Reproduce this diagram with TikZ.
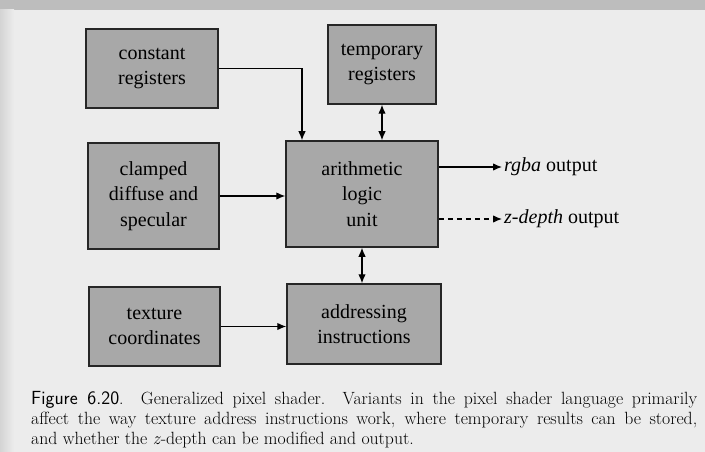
\documentclass[tikz,border=0pt]{standalone}
\usepackage{fontspec}
\setmainfont{Liberation Serif}
\newfontfamily\capfont{Latin Modern Roman}
\newfontfamily\capsans{Latin Modern Sans}
\usetikzlibrary{arrows.meta}
\definecolor{pagegray}{RGB}{236,236,236}
\definecolor{bandgray}{RGB}{189,189,189}
\definecolor{edgegray}{RGB}{212,212,212}
\definecolor{boxgray}{RGB}{168,168,168}
\begin{document}
\begin{tikzpicture}[x=1pt, y=-1pt,
  unitbox/.style={draw=black!85, line width=1.5pt, fill=boxgray, align=center,
    inner sep=0pt, font=\rmfamily\fontsize{20}{25.5}\selectfont},
  flow/.style={line width=1.2pt, -{Latex[length=9pt,width=7.5pt]}},
  twoway/.style={line width=1.2pt, {Latex[length=9pt,width=7.5pt]}-{Latex[length=9pt,width=7.5pt]}},
  outlabel/.style={anchor=west, inner sep=2pt, font=\rmfamily\fontsize{20}{24}\selectfont},
  capline/.style={anchor=base west, inner sep=0pt, font=\capfont\fontsize{17.7}{20}\selectfont}]
% page background
\fill[pagegray] (0,0) rectangle (705,452);
\fill[bandgray] (0,0) rectangle (705,10);
\shade[left color=edgegray, right color=pagegray] (0,10) rectangle (14,452);
\useasboundingbox (0,0) rectangle (705,452);
% units
\node[unitbox, minimum width=132pt, minimum height=79pt] (creg) at (152,68.5) {constant\\registers};
\node[unitbox, minimum width=108pt, minimum height=79pt] (treg) at (382,64.5) {temporary\\registers};
\node[unitbox, minimum width=131pt, minimum height=106pt] (clamp) at (153.5,196) {clamped\\diffuse and\\specular};
\node[unitbox, minimum width=152pt, minimum height=106pt] (alu) at (362,194) {arithmetic\\logic\\unit};
\node[unitbox, minimum width=131pt, minimum height=79pt] (texc) at (154.5,326.5) {texture\\coordinates};
\node[unitbox, minimum width=154pt, minimum height=80pt] (addr) at (364,324) {addressing\\instructions};
% outputs
\node[outlabel] (rgba) at (502,167) {\textit{rgba} output};
\node[outlabel] (zdep) at (502,219) {\textit{z-depth} output};
% connectors
\draw[flow] (creg.east) -| ([xshift=-60pt]alu.north);
\draw[twoway] (treg.south) -- (treg.south |- alu.north);
\draw[flow] (clamp.east) -- (clamp.east -| alu.west);
\draw[flow] ([yshift=27pt]alu.east) -- (rgba.west);
\draw[flow, dashed, dash pattern=on 5pt off 4pt] ([yshift=-25pt]alu.east) -- (zdep.west);
\draw[twoway] (alu.south) -- (alu.south |- addr.north);
\draw[flow] (texc.east) -- (texc.east -| addr.west);
% caption
\node[capline] (cap1) at (31,404)
  {\makebox[666pt][s]{{\capsans\fontsize{19}{20}\selectfont Figure 6.20}. Generalized pixel shader. Variants in the pixel shader language primarily}};
\node[capline] (cap2) at (31,424)
  {\makebox[666pt][s]{affect the way texture address instructions work, where temporary results can be stored,}};
\node[capline] (cap3) at (31,444)
  {and whether the \textit{z}-depth can be modified and output.};
\end{tikzpicture}
\end{document}
